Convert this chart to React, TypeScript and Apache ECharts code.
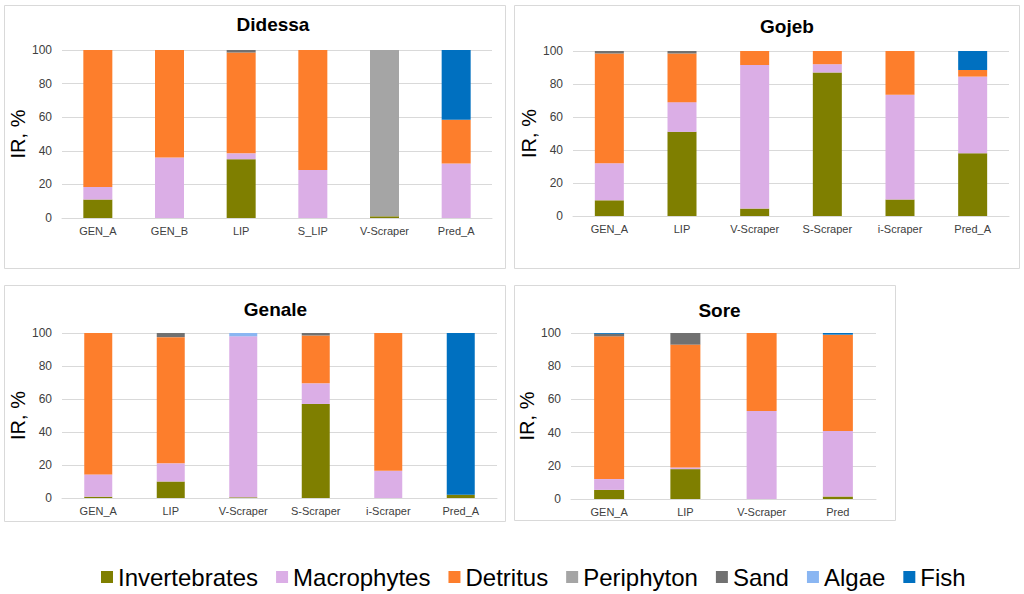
import React, { useEffect, useRef } from "react";
import * as echarts from "echarts";

const seriesNames = ["Invertebrates", "Macrophytes", "Detritus", "Periphyton", "Sand", "Algae", "Fish"];
const seriesColors = ["#7f7f00", "#dbaee6", "#fd7e2c", "#a5a5a5", "#717171", "#8ab6f2", "#0070c0"];
const yTicks = [0, 20, 40, 60, 80, 100];

// Didessa
const didessaCats = ["GEN_A", "GEN_B", "LIP", "S_LIP", "V-Scraper", "Pred_A"];
const didessaInvertebrates = [11, 0, 35, 0, 1, 0];
const didessaMacrophytes = [7.5, 36, 3.5, 28.5, 0, 32.5];
const didessaDetritus = [81.5, 64, 60, 71.5, 0, 26];
const didessaPeriphyton = [0, 0, 0, 0, 99, 0];
const didessaSand = [0, 0, 1.5, 0, 0, 0];
const didessaAlgae = [0, 0, 0, 0, 0, 0];
const didessaFish = [0, 0, 0, 0, 0, 41.5];

// Gojeb
const gojebCats = ["GEN_A", "LIP", "V-Scraper", "S-Scraper", "i-Scraper", "Pred_A"];
const gojebInvertebrates = [9.5, 51, 4.5, 87, 10, 38];
const gojebMacrophytes = [22.5, 18, 87, 5, 63.5, 46.5];
const gojebDetritus = [66.5, 29.5, 8.5, 8, 26.5, 4];
const gojebPeriphyton = [0, 0, 0, 0, 0, 0];
const gojebSand = [1.5, 1.5, 0, 0, 0, 0];
const gojebAlgae = [0, 0, 0, 0, 0, 0];
const gojebFish = [0, 0, 0, 0, 0, 11.5];

// Genale
const genaleCats = ["GEN_A", "LIP", "V-Scraper", "S-Scraper", "i-Scraper", "Pred_A"];
const genaleInvertebrates = [0.8, 10, 0.4, 57, 0, 2];
const genaleMacrophytes = [13.5, 11, 97.6, 12.5, 16.5, 0];
const genaleDetritus = [85.7, 76.5, 0, 29, 83.5, 0];
const genalePeriphyton = [0, 0, 0, 0, 0, 0];
const genaleSand = [0, 2.5, 0, 1.5, 0, 0];
const genaleAlgae = [0, 0, 2, 0, 0, 0];
const genaleFish = [0, 0, 0, 0, 0, 98];

// Sore
const soreCats = ["GEN_A", "LIP", "V-Scraper", "Pred"];
const soreInvertebrates = [5.5, 18, 0, 1.5];
const soreMacrophytes = [6.5, 1, 53, 39.5];
const soreDetritus = [86, 74, 47, 58];
const sorePeriphyton = [0, 0, 0, 0];
const soreSand = [1.5, 7, 0, 0];
const soreAlgae = [0, 0, 0, 0];
const soreFish = [0.5, 0, 0, 1];

const panels = [
  {
    title: "Didessa",
    cats: didessaCats,
    data: [didessaInvertebrates, didessaMacrophytes, didessaDetritus, didessaPeriphyton, didessaSand, didessaAlgae, didessaFish],
    box: { x: 4, y: 5, w: 501, h: 263 },
    grid: { left: 62, top: 50, width: 430, height: 168 },
    titleY: 24,
    barWidth: 29,
  },
  {
    title: "Gojeb",
    cats: gojebCats,
    data: [gojebInvertebrates, gojebMacrophytes, gojebDetritus, gojebPeriphyton, gojebSand, gojebAlgae, gojebFish],
    box: { x: 514, y: 5, w: 505, h: 263 },
    grid: { left: 573, top: 51, width: 436, height: 165 },
    titleY: 26,
    barWidth: 29,
  },
  {
    title: "Genale",
    cats: genaleCats,
    data: [genaleInvertebrates, genaleMacrophytes, genaleDetritus, genalePeriphyton, genaleSand, genaleAlgae, genaleFish],
    box: { x: 4, y: 285, w: 501, h: 236 },
    grid: { left: 62, top: 333, width: 435, height: 165 },
    titleY: 309,
    barWidth: 28,
  },
  {
    title: "Sore",
    cats: soreCats,
    data: [soreInvertebrates, soreMacrophytes, soreDetritus, sorePeriphyton, soreSand, soreAlgae, soreFish],
    box: { x: 514, y: 285, w: 381, h: 235 },
    grid: { left: 571, top: 333, width: 305, height: 166 },
    titleY: 310,
    barWidth: 30,
  },
];

const FONT = "'Liberation Sans', Arial, sans-serif";

export default function App() {
  const ref = useRef<HTMLDivElement>(null);

  useEffect(() => {
    document.body.style.margin = "0";
    if (!ref.current) return;
    const chart = echarts.init(ref.current, undefined, { renderer: "svg" });

    const graphics: any[] = [];
    panels.forEach((p) => {
      graphics.push({
        type: "rect",
        z: -10,
        silent: true,
        shape: { x: p.box.x + 0.5, y: p.box.y + 0.5, width: p.box.w, height: p.box.h },
        style: { fill: "#ffffff", stroke: "#d9d9d9", lineWidth: 1 },
      });
      graphics.push({
        type: "text",
        x: p.grid.left + p.grid.width / 2 - 4,
        y: p.titleY,
        style: {
          text: p.title,
          font: `bold 19px ${FONT}`,
          fill: "#000000",
          textAlign: "center",
          textVerticalAlign: "middle",
        },
      });
    });

    const option: any = {
      animation: false,
      backgroundColor: "#ffffff",
      textStyle: { fontFamily: FONT },
      graphic: graphics,
      legend: {
        left: 96,
        top: 560,
        itemWidth: 12,
        itemHeight: 12,
        itemGap: 18,
        icon: "rect",
        data: seriesNames,
        textStyle: { fontSize: 24, color: "#000000", fontFamily: FONT },
      },
      grid: panels.map((p) => ({ ...p.grid, containLabel: false })),
      xAxis: panels.map((p, i) => ({
        type: "category",
        gridIndex: i,
        data: p.cats,
        axisLine: { lineStyle: { color: "#d9d9d9" } },
        axisTick: { show: false },
        axisLabel: { fontSize: 11, color: "#404040", margin: 7, interval: 0, fontFamily: FONT },
      })),
      yAxis: panels.map((p, i) => ({
        type: "value",
        gridIndex: i,
        min: 0,
        max: 100,
        interval: 20,
        name: "IR, %",
        nameLocation: "middle",
        nameGap: 30,
        nameTextStyle: { fontSize: 20, color: "#000000", fontFamily: FONT },
        axisLine: { show: false },
        axisTick: { show: false },
        splitLine: { lineStyle: { color: "#d9d9d9" } },
        axisLabel: { fontSize: 12, color: "#404040", margin: 10, fontFamily: FONT },
      })),
      series: panels.flatMap((p, i) =>
        seriesNames.map((name, k) => ({
          type: "bar",
          name,
          xAxisIndex: i,
          yAxisIndex: i,
          stack: "panel" + i,
          barWidth: p.barWidth,
          itemStyle: { color: seriesColors[k] },
          data: p.data[k],
        }))
      ),
    };
    chart.setOption(option);
    return () => chart.dispose();
  }, []);

  return <div ref={ref} style={{ width: 1024, height: 594 }} />;
}
